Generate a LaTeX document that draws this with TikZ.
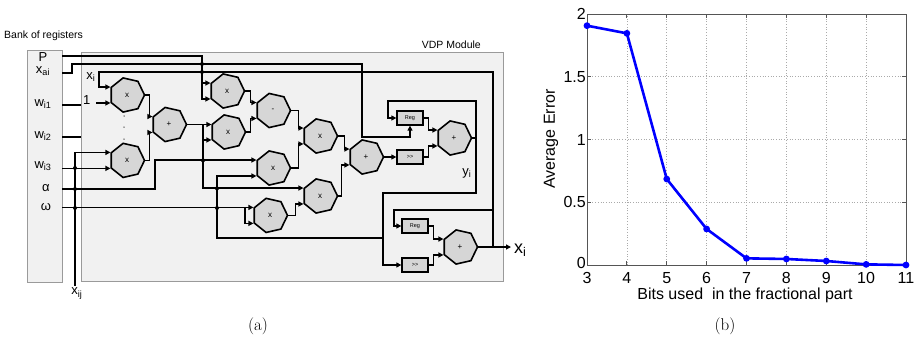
\documentclass[tikz,border=0pt]{standalone}
\usepackage{fontspec}
\newfontfamily\arialf{Liberation Sans}
\usetikzlibrary{shapes.geometric,arrows.meta,calc}
\definecolor{gatefill}{HTML}{D6D6D6}
\definecolor{boxfill}{HTML}{F1F1F1}
\definecolor{boxline}{HTML}{9A9A9A}
\definecolor{gridc}{HTML}{AAAAAA}
\definecolor{axisc}{HTML}{555555}
\definecolor{plotblue}{HTML}{0000FF}
\begin{document}
\begin{tikzpicture}[x=1pt,y=-1pt,
  wire/.style={line width=1.6pt, black},
  arr/.style={-{Triangle[length=5pt,width=5pt]}},
  gate/.style={regular polygon, regular polygon sides=7, shape border rotate=270,
    minimum size=35pt, inner sep=0pt, draw, line width=1.6pt, fill=gatefill,
    font=\arialf\fontsize{8}{9}\selectfont},
  regbox/.style={draw, line width=1.3pt, fill=gatefill, minimum width=26pt,
    minimum height=14pt, inner sep=0pt, font=\arialf\fontsize{5.5}{6}\selectfont},
  panel/.style={draw=boxline, fill=boxfill, line width=1.2pt, inner sep=0pt, anchor=north west},
  reglab/.style={font=\arialf\fontsize{13}{15}\selectfont, inner sep=0.5pt},
  lab/.style={font=\arialf\fontsize{13}{15}\selectfont, inner sep=0.5pt},
  jdot/.style={circle, fill=black, inner sep=0pt, minimum size=4pt},
  smalldot/.style={circle, fill=black!70, inner sep=0pt, minimum size=1.5pt},
  ticklab/.style={font=\arialf\fontsize{16}{18}\selectfont, inner sep=1pt},
  axlab/.style={font=\arialf\fontsize{16}{18}\selectfont, inner sep=0pt},
  caplab/.style={font=\fontsize{17}{19}\selectfont, inner sep=0pt},
]
\useasboundingbox (0,0) rectangle (916,340);

% ---------------- panel (a) ----------------
\node[panel, minimum width=35pt, minimum height=232pt] (bank) at (27,50) {};
\node[panel, minimum width=422pt, minimum height=229pt] (vdp) at (81,52) {};
\node[font=\arialf\fontsize{10.5}{12}\selectfont, anchor=south west, inner sep=0pt] (bankt) at (4,41) {Bank of registers};
\node[font=\arialf\fontsize{10.5}{12}\selectfont, anchor=south east, inner sep=0pt] (vdpt) at (481,49) {VDP Module};

\node[reglab] (lP)  at (43,57) {P};
\node[reglab] (lxa) at (43,71) {x\textsubscript{ai}};
\node[reglab] (lw1) at (43,104) {w\textsubscript{i1}};
\node[reglab] (lw2) at (43,136) {w\textsubscript{i2}};
\node[reglab] (lw3) at (43,166) {w\textsubscript{i3}};
\node[reglab] (lal) at (46,188) {α};
\node[reglab] (lom) at (46,207) {ω};

\coordinate (pP)  at (62,56);
\coordinate (pXa) at (62,73);
\coordinate (pW1) at (62,105);
\coordinate (pW2) at (62,137);
\coordinate (pW3) at (62,168);
\coordinate (pAl) at (62,189);
\coordinate (pOm) at (62,208);

% gates
\node[gate] (M1) at (127,95) {x};
\node[gate] (M2) at (127,160.4) {x};
\node[gate] (A1) at (169,124.5) {+};
\node[gate] (M3) at (227,91) {x};
\node[gate] (M4) at (228,132) {x};
\node[gate] (S1) at (273,110.5) {-};
\node[gate] (M5) at (320,136) {x};
\node[gate] (M6) at (273,168) {x};
\node[gate] (M7) at (320,196) {x};
\node[gate] (M8) at (270,215.4) {x};
\node[gate] (A2) at (366,157) {+};
\node[gate] (A3) at (454,138) {+};
\node[gate] (A4) at (460,247) {+};
\node[regbox] (Reg1) at (410,118) {Reg};
\node[regbox] (Sh1)  at (410,157) {>>};
\node[regbox] (Reg2) at (415,226) {Reg};
\node[regbox] (Sh2)  at (415,265) {>>};

% labels
\node[lab] (lxi) at (91,77) {x\textsubscript{i}};
\node[lab, anchor=east] (one) at (91,100) {1};
\node[lab] (lyi) at (467,173) {y\textsubscript{i}};
\node[lab, anchor=north] (lxij) at (77,287) {x\textsubscript{ij}};
\node[font=\arialf\fontsize{18}{20}\selectfont, anchor=west, inner sep=0pt] (xout) at (514,250) {x\textsubscript{i}};
\coordinate (outend) at (511,247);
\coordinate (xtap) at (493,247);
\coordinate (xijend) at (75,286);

% dots between multipliers
\node[smalldot] (d1) at (124,116) {};
\node[smalldot] (d2) at (124,127) {};
\node[smalldot] (d3) at (124,139) {};

% P
\draw[wire,arr] (pP) -- (202,56) |- (M3.corner 5);
\draw[wire,arr] (202,56 |- M3.corner 4) -- (M3.corner 4);
% x_ai
\draw[wire,arr] (pXa) -- (72,73) -- (72,64) -- (362,64) -- (362,137) -| (Reg1.south);
% x_i loop
\draw[wire,arr] (xtap) -- (493,72) -- (99,72) |- (M1.corner 4);
\draw[wire,arr] (493,210) -- (394,210) |- (Reg2.west);
\draw[wire,arr] (A4.corner 1) -- (outend);
% 1
\draw[wire,arr] ($(one.east |- M1.corner 5)+(5,0)$) -- (M1.corner 5);
% w_i1, w_i2
\draw[wire] (pW1) -- (pW1 -| vdp.west);
\draw[wire] (pW2) -- (pW2 -| vdp.west);
% w_i3
\draw[wire,arr] (pW3 |- M2.corner 5) -- (M2.corner 5);
% x_ij
\draw[wire,arr] (xijend) |- (M2.corner 4);
% alpha
\draw[wire,arr] (pAl) -- (155,189) |- (M6.corner 4);
% omega
\draw[wire,arr] (pOm |- M8.corner 4) -- (M8.corner 4);
\draw[wire,arr] (245,208) |- (M8.corner 5);
% adder 1 output
\draw[wire,arr] (A1.corner 1) -- (A1.corner 1 -| M4.corner 4);
\draw[wire,arr] (203,124.5) |- (M7.corner 4);
\draw[wire,arr] (203,124.5 |- M4.corner 5) -- (M4.corner 5);
% y_i into M6
\draw[wire,arr] (383,238) -- (217,238) |- (M6.corner 5);
% y_i
\draw[wire,arr] (A3.corner 1) -- (476,138) -- (476,101) -- (388,101) |- (Reg1.west);
\draw[wire,arr] (476,138) -- (476,193) -- (383,193) |- (Sh2.west);
% accumulators
\draw[wire,arr] (Reg1.east) -- ++(5,0) |- (A3.corner 4);
\draw[wire,arr] (Sh1.east) -- ++(5,0) |- (A3.corner 5);
\draw[wire,arr] (A2.corner 1) -- (Sh1.west);
\draw[wire,arr] (Reg2.east) -- ++(5,0) |- (A4.corner 4);
\draw[wire,arr] (Sh2.east) -- ++(5,0) |- (A4.corner 5);
% core
\draw[wire,arr] (M1.corner 1) -- ++(4,0) |- (A1.corner 4);
\draw[wire,arr] (M2.corner 1) -- ++(4,0) |- (A1.corner 5);
\draw[wire,arr] (M3.corner 1) -- ++(5,0) |- (S1.corner 4);
\draw[wire,arr] (M4.corner 1) -- ++(4,0) |- (S1.corner 5);
\draw[wire,arr] (S1.corner 1) -- ++(7,0) |- (M5.corner 4);
\draw[wire,arr] (M6.corner 1) -- ++(7,0) |- (M5.corner 5);
\draw[wire,arr] (M5.corner 1) -- ++(6,0) |- (A2.corner 4);
\draw[wire,arr] (M7.corner 1) -- ++(3,0) |- (A2.corner 5);
\draw[wire,arr] (M8.corner 1) -- ++(7,0) |- (M7.corner 5);

% junction dots
\node[jdot] (j1) at (202,64) {};
\node[jdot] (j2) at (202,72) {};
\node[jdot] (j3) at (75,168) {};
\node[jdot] (j4) at (75,189) {};
\node[jdot] (j5) at (75,208) {};
\node[jdot] (j6) at (203,160.4) {};
\node[jdot] (j7) at (217,188.4) {};
\node[jdot] (j8) at (217,208) {};

\node[caplab] (capa) at (258,326) {(a)};

% ---------------- panel (b) ----------------
\begin{scope}[shift={(587,265)}, x=39.875pt, y=125.5pt]
  \foreach \u in {1,...,7} \draw[gridc, dotted, line width=0.7pt] (\u,0) -- (\u,2);
  \foreach \v in {0.5,1,1.5} \draw[gridc, dotted, line width=0.7pt] (0,\v) -- (8,\v);
  \draw[axisc, line width=0.9pt] (0,0) rectangle (8,2);
  \foreach \u in {1,...,7} {
    \draw[axisc, line width=0.9pt] (\u,0) -- ++(0,4pt);
    \draw[axisc, line width=0.9pt] (\u,2) -- ++(0,-4pt);
  }
  \foreach \v in {0.5,1,1.5} {
    \draw[axisc, line width=0.9pt] (0,\v) -- ++(4pt,0);
    \draw[axisc, line width=0.9pt] (8,\v) -- ++(-4pt,0);
  }
  \foreach \u in {3,...,11} \node[ticklab, anchor=north, yshift=-6pt] (xt\u) at (\u-3,0) {\u};
  \node[ticklab, anchor=east, yshift=2pt] (yt0) at (0,0) {0};
  \node[ticklab, anchor=east] (yt1) at (0,0.5) {0.5};
  \node[ticklab, anchor=east] (yt2) at (0,1) {1};
  \node[ticklab, anchor=east] (yt3) at (0,1.5) {1.5};
  \node[ticklab, anchor=east] (yt4) at (0,2) {2};
  \draw[plotblue, line width=2.6pt, line join=round]
    (0,1.907) -- (1,1.846) -- (2,0.685) -- (3,0.287) -- (4,0.053) -- (5,0.048) -- (6,0.032) -- (7,0.005) -- (8,0);
  \foreach \p in {(0,1.907),(1,1.846),(2,0.685),(3,0.287),(4,0.053),(5,0.048),(6,0.032),(7,0.005),(8,0)}
    \fill[plotblue] \p circle (3.4pt);
\end{scope}
\node[axlab] (xlab) at (745,295) {Bits used\ \ in the fractional part};
\node[axlab, rotate=90] (ylab) at (551,139) {Average Error};
\node[caplab] (capb) at (725,326) {(b)};
\end{tikzpicture}
\end{document}
